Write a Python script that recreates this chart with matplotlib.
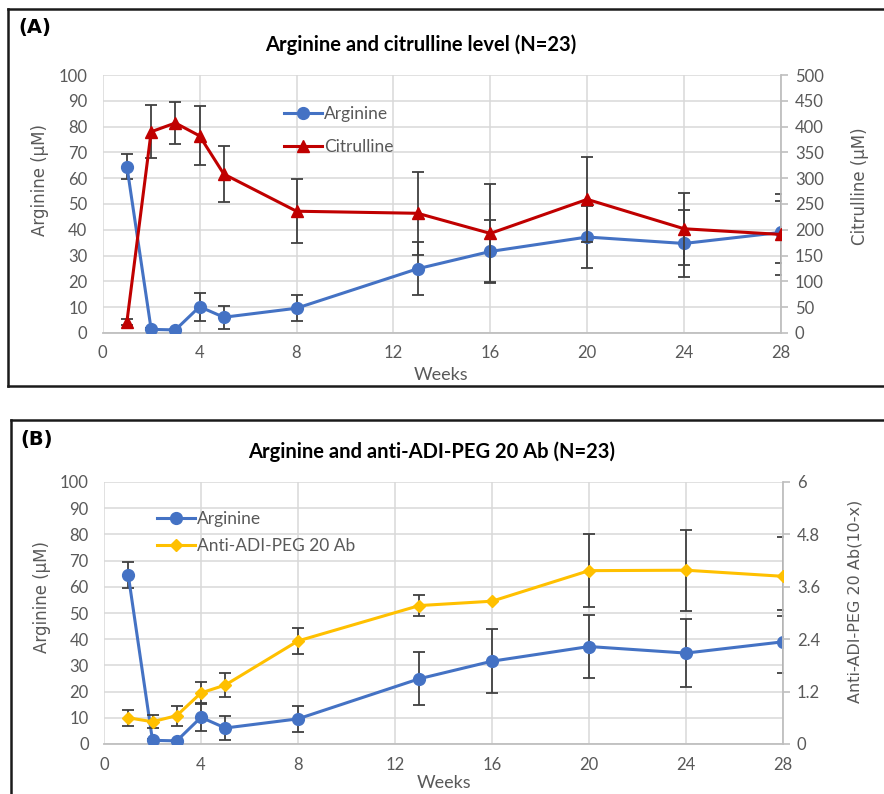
import numpy as np
import matplotlib
matplotlib.use("Agg")
import matplotlib.pyplot as plt
from matplotlib.lines import Line2D

weeks = [1, 2, 3, 4, 5, 8, 13, 16, 20, 24, 28]

arginine = [64.5, 1.4, 1.2, 10.2, 6.1, 9.6, 24.9, 31.6, 37.2, 34.7, 39.0]
arginine_err = [5.0, 0.4, 0.4, 5.4, 4.5, 5.0, 10.2, 12.2, 12.1, 13.0, 12.0]

citrulline = [22, 390, 407, 382, 308, 236, 232, 193, 259, 202, 191]
citrulline_err = [6, 51, 41, 57, 55, 62, 80, 95, 83, 70, 78]

anti_ab = [0.60, 0.51, 0.65, 1.17, 1.35, 2.36, 3.17, 3.27, 3.97, 3.98, 3.84]
anti_ab_err = [0.19, 0.15, 0.23, 0.26, 0.28, 0.29, 0.25, 0.0, 0.84, 0.93, 0.91]

xticks = [0, 4, 8, 12, 16, 20, 24, 28]

BLUE = "#4472C4"
RED = "#C00000"
GOLD = "#FFC000"
GREY_TXT = "#595959"
GRID = "#d9d9d9"
ERR = "#404040"
TICKFONT = "Lato"

W, H = 884, 794
fig = plt.figure(figsize=(W / 100, H / 100), dpi=100)


def fx(px):
    return px / W


def fy(py):
    return 1 - py / H


def setup_axes(rect, right_max, right_ticks, right_fmt):
    ax = fig.add_axes(rect)
    ax.set_xlim(0, 28)
    ax.set_ylim(0, 100)
    ax.set_xticks(xticks)
    ax.set_yticks(np.arange(0, 101, 10))
    ax.grid(True, color=GRID, lw=1.1)
    ax.set_axisbelow(True)
    for s in ["top", "right", "left"]:
        ax.spines[s].set_visible(False)
    ax.spines["bottom"].set_color("#bfbfbf")
    ax.spines["bottom"].set_linewidth(1.3)
    ax.tick_params(axis="y", length=0, pad=11, labelcolor=GREY_TXT, labelsize=12)
    ax.tick_params(axis="x", length=0, pad=9, labelcolor=GREY_TXT, labelsize=12)
    for lab in ax.get_xticklabels() + ax.get_yticklabels():
        lab.set_fontfamily(TICKFONT)

    ax2 = ax.twinx()
    ax2.set_ylim(0, right_max)
    ax2.set_yticks(right_ticks)
    ax2.set_yticklabels([right_fmt(v) for v in right_ticks])
    for s in ["top", "left", "bottom"]:
        ax2.spines[s].set_visible(False)
    ax2.spines["right"].set_color("#bfbfbf")
    ax2.spines["right"].set_linewidth(1.3)
    ax2.tick_params(axis="y", length=5, width=1.2, color="#bfbfbf", pad=5,
                    labelcolor=GREY_TXT, labelsize=12)
    for lab in ax2.get_yticklabels():
        lab.set_fontfamily(TICKFONT)
    return ax, ax2


def draw_series(ax, y, err, color, marker, ms):
    ax.errorbar(weeks, y, yerr=err, fmt="none", ecolor=ERR, elinewidth=1.3,
                capsize=4, capthick=1.3, zorder=2)
    line, = ax.plot(weeks, y, color=color, lw=2.2, marker=marker, ms=ms,
                    zorder=3)
    return line


# ---------------- panel A ----------------
axA, axA2 = setup_axes([fx(102.7), fy(333), fx(781) - fx(102.7), fy(75) - fy(333)],
                       500, np.arange(0, 501, 50), lambda v: f"{int(v)}")
lA1 = draw_series(axA, arginine, arginine_err, BLUE, "o", 8.5)
lA2 = draw_series(axA2, citrulline, citrulline_err, RED, "^", 8.5)
axA2.legend([lA1, lA2], ["Arginine", "Citrulline"], loc="upper left",
            bbox_to_anchor=(fx(284), fy(106)), bbox_transform=fig.transFigure,
            frameon=False, handlelength=2.2, handletextpad=0.1,
            labelspacing=1.0, borderpad=0, borderaxespad=0,
            prop={"family": TICKFONT, "size": 12.5}, labelcolor=GREY_TXT)

fig.text(fx(18), fy(28), "(A)", fontsize=14, fontweight="bold",
         family="DejaVu Sans", va="center", ha="left")
fig.text(fx(421), fy(45), "Arginine and citrulline level (N=23)", fontsize=14.5,
         fontweight="bold", family=TICKFONT, ha="center", va="center")
fig.text(fx(441), fy(375), "Weeks", fontsize=13, family=TICKFONT,
         color=GREY_TXT, ha="center", va="center")
fig.text(fx(40), fy(180), "Arginine (\u00b5M)", rotation=90, fontsize=12,
         family="DejaVu Sans", color=GREY_TXT, ha="center", va="center")
fig.text(fx(860), fy(186), "Citrulline (\u00b5M)", rotation=90, fontsize=12,
         family="DejaVu Sans", color=GREY_TXT, ha="center", va="center")

# ---------------- panel B ----------------
axB, axB2 = setup_axes([fx(104), fy(744), fx(783) - fx(104), fy(482) - fy(744)],
                       6, [0, 1.2, 2.4, 3.6, 4.8, 6],
                       lambda v: "0" if v == 0 else ("6" if v == 6 else f"{v:.1f}"))
lB1 = draw_series(axB, arginine, arginine_err, BLUE, "o", 8.5)
lB2 = draw_series(axB2, anti_ab, anti_ab_err, GOLD, "D", 6)
axB2.legend([lB1, lB2], ["Arginine", "Anti-ADI-PEG 20 Ab"], loc="upper left",
            bbox_to_anchor=(fx(157), fy(511)), bbox_transform=fig.transFigure,
            frameon=False, handlelength=2.2, handletextpad=0.1,
            labelspacing=0.65, borderpad=0, borderaxespad=0,
            prop={"family": TICKFONT, "size": 12.5}, labelcolor=GREY_TXT)

fig.text(fx(20), fy(439), "(B)", fontsize=14, fontweight="bold",
         family="DejaVu Sans", va="center", ha="left")
fig.text(fx(432), fy(452), "Arginine and anti-ADI-PEG 20 Ab (N=23)", fontsize=14.5,
         fontweight="bold", family=TICKFONT, ha="center", va="center")
fig.text(fx(444), fy(783), "Weeks", fontsize=13, family=TICKFONT,
         color=GREY_TXT, ha="center", va="center")
fig.text(fx(42), fy(597), "Arginine (\u00b5M)", rotation=90, fontsize=12,
         family="DejaVu Sans", color=GREY_TXT, ha="center", va="center")
fig.text(fx(855), fy(601), "Anti-ADI-PEG 20 Ab(10-x)", rotation=90, fontsize=11.5,
         family="DejaVu Sans", color=GREY_TXT, ha="center", va="center")

# panel frames
frame = dict(color="#1a1a1a", lw=1.8, transform=fig.transFigure)
fig.add_artist(Line2D([fx(8), fx(884)], [fy(9), fy(9)], **frame))
fig.add_artist(Line2D([fx(8), fx(8)], [fy(9), fy(386)], **frame))
fig.add_artist(Line2D([fx(8), fx(884)], [fy(386), fy(386)], **frame))
fig.add_artist(Line2D([fx(11), fx(884)], [fy(420), fy(420)], **frame))
fig.add_artist(Line2D([fx(11), fx(11)], [fy(420), fy(794)], **frame))

fig.savefig("out.png", dpi=100)
